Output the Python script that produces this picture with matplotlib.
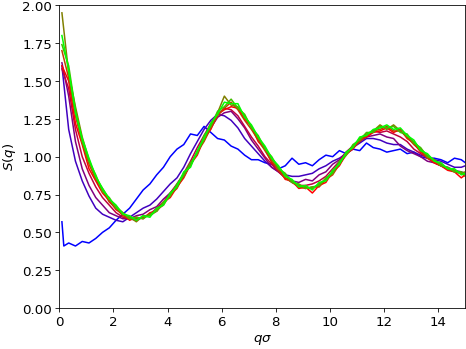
import matplotlib
matplotlib.use("Agg")
import matplotlib.pyplot as plt

plt.rcParams['font.size'] = 13.3

# q sigma grid shared by most curves
q = [0.10, 0.35, 0.60, 0.85, 1.10, 1.35, 1.60, 1.85, 2.10, 2.35,
     2.60, 2.85, 3.10, 3.35, 3.60, 3.85, 4.10, 4.35, 4.60, 4.85,
     5.10, 5.35, 5.60, 5.85, 6.10, 6.35, 6.60, 6.85, 7.10, 7.35,
     7.60, 7.85, 8.10, 8.35, 8.60, 8.85, 9.10, 9.35, 9.60, 9.85,
     10.10, 10.35, 10.60, 10.85, 11.10, 11.35, 11.60, 11.85, 12.10, 12.35,
     12.60, 12.85, 13.10, 13.35, 13.60, 13.85, 14.10, 14.35, 14.60, 14.85,
     15.00]
q_blue = [0.10, 0.17] + q[1:]

s_blue = [0.57, 0.41, 0.43, 0.41, 0.44, 0.43, 0.46, 0.50, 0.53, 0.58, 0.62,
          0.66, 0.72, 0.78, 0.82, 0.88, 0.93, 1.00, 1.05, 1.08, 1.15,
          1.14, 1.20, 1.16, 1.12, 1.11, 1.07, 1.05, 1.01, 0.98, 0.98,
          0.96, 0.95, 0.92, 0.94, 0.99, 0.95, 0.96, 0.94, 0.98, 1.01,
          1.00, 1.04, 1.02, 1.05, 1.04, 1.09, 1.06, 1.05, 1.03, 1.04,
          1.05, 1.02, 1.03, 1.00, 0.99, 0.99, 0.98, 0.96, 0.99, 0.98, 0.96]
s_violet = [1.60, 1.18, 0.97, 0.84, 0.74, 0.66, 0.62, 0.60, 0.58, 0.57,
            0.60, 0.63, 0.66, 0.68, 0.72, 0.77, 0.82, 0.86, 0.93, 1.02,
            1.10, 1.18, 1.24, 1.28, 1.27, 1.24, 1.19, 1.12, 1.07, 1.02,
            0.97, 0.93, 0.90, 0.88, 0.87, 0.87, 0.88, 0.89, 0.92, 0.94,
            0.97, 0.99, 1.02, 1.06, 1.09, 1.12, 1.12, 1.11, 1.09, 1.08,
            1.08, 1.05, 1.03, 1.01, 1.00, 0.98, 0.97, 0.95, 0.93, 0.93, 0.94]
s_purple = [1.62, 1.40, 1.10, 0.92, 0.81, 0.73, 0.68, 0.63, 0.61, 0.59,
            0.59, 0.61, 0.62, 0.65, 0.67, 0.72, 0.76, 0.81, 0.87, 0.95,
            1.03, 1.12, 1.19, 1.26, 1.29, 1.30, 1.25, 1.19, 1.11, 1.05,
            0.99, 0.93, 0.90, 0.86, 0.84, 0.83, 0.85, 0.84, 0.88, 0.90,
            0.95, 0.98, 1.03, 1.07, 1.10, 1.13, 1.14, 1.15, 1.13, 1.12,
            1.07, 1.04, 1.02, 1.00, 0.97, 0.96, 0.94, 0.93, 0.91, 0.90, 0.89]
s_crimson = [1.58, 1.45, 1.18, 1.00, 0.89, 0.80, 0.73, 0.68, 0.63, 0.60,
             0.59, 0.58, 0.60, 0.62, 0.66, 0.70, 0.76, 0.82, 0.89, 0.97,
             1.06, 1.14, 1.22, 1.28, 1.32, 1.31, 1.27, 1.20, 1.13, 1.07,
             1.00, 0.95, 0.90, 0.86, 0.83, 0.81, 0.81, 0.82, 0.84, 0.87,
             0.92, 0.97, 1.03, 1.07, 1.11, 1.14, 1.17, 1.16, 1.17, 1.15,
             1.13, 1.10, 1.05, 1.02, 0.99, 0.96, 0.94, 0.92, 0.90, 0.89, 0.88]
s_red = [1.60, 1.50, 1.22, 1.08, 0.92, 0.84, 0.76, 0.71, 0.65, 0.62,
         0.58, 0.60, 0.59, 0.63, 0.64, 0.70, 0.73, 0.80, 0.86, 0.95,
         1.01, 1.12, 1.18, 1.28, 1.31, 1.33, 1.32, 1.25, 1.20, 1.10,
         1.05, 0.96, 0.92, 0.85, 0.84, 0.79, 0.80, 0.76, 0.81, 0.83,
         0.90, 0.94, 1.02, 1.05, 1.11, 1.13, 1.16, 1.17, 1.19, 1.16,
         1.18, 1.12, 1.09, 1.03, 1.00, 0.96, 0.94, 0.91, 0.90, 0.86, 0.88]
s_brown = [1.70, 1.52, 1.27, 1.09, 0.95, 0.85, 0.78, 0.70, 0.66, 0.61,
           0.59, 0.59, 0.60, 0.62, 0.65, 0.68, 0.75, 0.79, 0.88, 0.94,
           1.03, 1.10, 1.19, 1.27, 1.32, 1.36, 1.31, 1.24, 1.18, 1.11,
           1.04, 0.97, 0.91, 0.86, 0.83, 0.80, 0.79, 0.80, 0.80, 0.85,
           0.88, 0.95, 1.01, 1.06, 1.10, 1.14, 1.17, 1.18, 1.20, 1.17,
           1.17, 1.13, 1.08, 1.04, 0.99, 0.97, 0.94, 0.92, 0.90, 0.89, 0.87]
s_olive = [1.95, 1.55, 1.33, 1.13, 0.98, 0.86, 0.79, 0.72, 0.67, 0.63,
           0.60, 0.57, 0.61, 0.61, 0.64, 0.69, 0.75, 0.81, 0.87, 0.95,
           1.03, 1.11, 1.21, 1.29, 1.40, 1.34, 1.33, 1.27, 1.20, 1.12,
           1.06, 0.98, 0.93, 0.88, 0.84, 0.81, 0.80, 0.79, 0.82, 0.85,
           0.90, 0.96, 1.02, 1.07, 1.12, 1.15, 1.17, 1.21, 1.18, 1.21,
           1.17, 1.13, 1.10, 1.05, 1.01, 0.98, 0.95, 0.92, 0.91, 0.89, 0.90]
s_yellowgreen = [1.74, 1.60, 1.31, 1.10, 0.97, 0.88, 0.77, 0.73, 0.66, 0.63,
                 0.59, 0.60, 0.59, 0.62, 0.64, 0.70, 0.74, 0.82, 0.88, 0.96,
                 1.02, 1.14, 1.20, 1.30, 1.33, 1.38, 1.32, 1.28, 1.19, 1.14,
                 1.05, 1.00, 0.92, 0.89, 0.83, 0.82, 0.79, 0.80, 0.81, 0.86,
                 0.89, 0.97, 1.01, 1.08, 1.11, 1.16, 1.16, 1.20, 1.19, 1.20,
                 1.16, 1.15, 1.09, 1.06, 1.00, 0.98, 0.94, 0.93, 0.90, 0.90, 0.88]
s_green = [1.80, 1.57, 1.29, 1.12, 0.99, 0.87, 0.79, 0.72, 0.68, 0.62,
           0.61, 0.58, 0.61, 0.60, 0.66, 0.68, 0.76, 0.80, 0.90, 0.93,
           1.04, 1.12, 1.22, 1.28, 1.36, 1.35, 1.35, 1.26, 1.21, 1.13,
           1.07, 0.99, 0.94, 0.87, 0.85, 0.80, 0.81, 0.78, 0.83, 0.84,
           0.91, 0.95, 1.03, 1.06, 1.13, 1.14, 1.18, 1.19, 1.21, 1.18,
           1.19, 1.14, 1.11, 1.04, 1.02, 0.97, 0.96, 0.92, 0.92, 0.88, 0.89]

curves = [s_violet, s_purple, s_crimson, s_red, s_brown, s_olive,
          s_yellowgreen, s_green]
colors = [(0.25, 0, 0.75), (0.5, 0, 0.5), (0.75, 0, 0.25), (1, 0, 0),
          (0.75, 0.25, 0), (0.5, 0.5, 0), (0.25, 0.75, 0), (0, 1, 0)]

fig = plt.figure(figsize=(6.4, 4.8), dpi=72.85)
ax = fig.add_subplot(111)
fig.subplots_adjust(left=0.127, right=0.998, bottom=0.117, top=0.983)

ax.plot(q_blue, s_blue, color=(0, 0, 1))
for s, c in zip(curves, colors):
    ax.plot(q, s, color=c)

ax.set_xlim(0, 15)
ax.set_ylim(0, 2)
ax.set_xlabel(r"$q\sigma$")
ax.set_ylabel(r"$S(q)$")

fig.savefig("out.png", dpi=72.85)
